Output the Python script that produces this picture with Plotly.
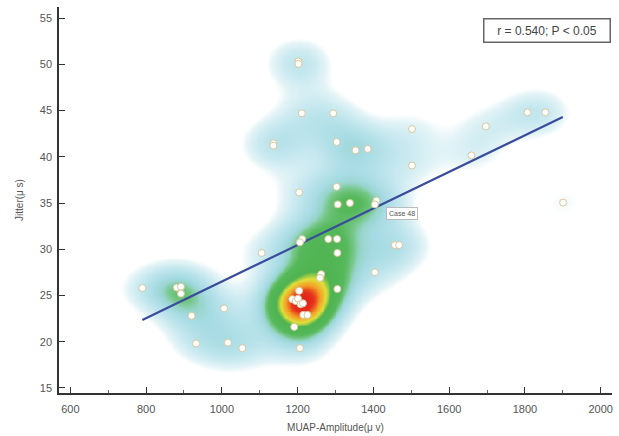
import numpy as np
import plotly.graph_objects as go

# ---- data ----
amp = [790, 881, 892, 892, 920, 932, 1006, 1016, 1054, 1105,
       1136, 1136, 1202, 1202, 1211, 1294, 1303, 1353, 1385, 1502,
       1502, 1659, 1697, 1807, 1854, 1901,
       1204, 1303, 1306, 1338, 1408, 1404,
       1212, 1206, 1281, 1304, 1305, 1457, 1468, 1404,
       1262, 1259, 1305, 1204,
       1186, 1195, 1201, 1208, 1214,
       1215, 1226, 1191, 1206]
jit = [25.8, 25.85, 25.95, 25.2, 22.8, 19.8, 23.6, 19.9, 19.3, 29.6,
       41.45, 41.2, 50.3, 50.05, 44.7, 44.7, 41.6, 40.7, 40.85, 43.0,
       39.05, 40.15, 43.3, 44.8, 44.8, 35.05,
       36.15, 36.75, 34.85, 35.0, 35.25, 34.85,
       31.1, 30.75, 31.1, 31.1, 29.6, 30.45, 30.45, 27.5,
       27.3, 26.9, 25.7, 25.5,
       24.6, 24.4, 24.65, 24.05, 24.15,
       22.9, 22.9, 21.6, 19.3]
fit_x = [790, 1900]
fit_y = [22.35, 44.3]
stat_text = "r = 0.540; P < 0.05"
case_label = "Case 48"
case_pos = (1475, 33.86)
x_ticks = [600, 800, 1000, 1200, 1400, 1600, 1800, 2000]
y_ticks = [15, 20, 25, 30, 35, 40, 45, 50, 55]

# ---- density surface from the points ----
gx = np.linspace(570, 2030, 320)
gy = np.linspace(14.4, 56.2, 220)
GX, GY = np.meshgrid(gx, gy)
hx, hy = 66.0, 2.1
Z = np.zeros_like(GX)
for xi, yi in zip(amp, jit):
    Z += np.exp(-0.5 * ((GX - xi) / hx) ** 2 - 0.5 * ((GY - yi) / hy) ** 2)
Z = Z / Z.max()

cscale = [
    [0.0, "#ffffff"], [0.1, "#ffffff"], [0.135, "#e4f4f7"],
    [0.19, "#cdebf1"], [0.26, "#b8e2ea"], [0.33, "#a6dbe3"],
    [0.38, "#96d4c8"], [0.42, "#74c684"], [0.47, "#55b85a"],
    [0.64, "#4fb350"], [0.73, "#e0df3a"], [0.83, "#f3a126"],
    [0.93, "#e6301c"], [1.0, "#e0201a"],
]

fig = go.Figure()
fig.add_trace(go.Heatmap(x=gx, y=gy, z=Z, colorscale=cscale, zmin=0, zmax=1,
                         zsmooth="best", showscale=False, hoverinfo="skip"))
fig.add_trace(go.Scatter(x=fit_x, y=fit_y, mode="lines",
                         line=dict(color="#3a4c9c", width=2.2), hoverinfo="skip"))
fig.add_trace(go.Scatter(x=amp, y=jit, mode="markers",
                         marker=dict(size=7, color="white",
                                     line=dict(color="#d9c79e", width=1))))

font = "Liberation Sans, Arial, sans-serif"
fig.add_annotation(text=stat_text, xref="paper", yref="paper", x=0.998, y=0.972,
                   xanchor="right", yanchor="top", showarrow=False,
                   font=dict(family=font, size=12, color="#444"),
                   bgcolor="white", bordercolor="#666", borderwidth=1.5,
                   borderpad=3, width=119, height=16)
fig.add_annotation(text=case_label, x=case_pos[0], y=case_pos[1], xref="x", yref="y",
                   showarrow=False, font=dict(family=font, size=7, color="#555"),
                   bgcolor="white", bordercolor="#bbb", borderwidth=1, borderpad=2)

axis_common = dict(showgrid=False, zeroline=False, showline=True, linecolor="#333",
                   linewidth=1.5, ticks="inside", ticklen=6, tickwidth=1.2,
                   tickcolor="#333", automargin=False,
                   tickfont=dict(family=font, size=11, color="#555"))
fig.update_layout(
    width=619, height=436, margin=dict(l=59, r=7, t=7, b=43),
    paper_bgcolor="white", plot_bgcolor="white", showlegend=False,
    xaxis=dict(range=[570, 2030], tickvals=x_ticks, ticklabelstandoff=5,
               minor=dict(ticks="inside", ticklen=3, dtick=100, tick0=0, tickcolor="#666"),
               title=dict(text="MUAP-Amplitude(μ v)", standoff=10,
                          font=dict(family=font, size=10, color="#555")),
               **axis_common),
    yaxis=dict(range=[14.45, 56.2], tickvals=y_ticks, ticklabelstandoff=3,
               title=dict(text="Jitter(μ s)", standoff=14,
                          font=dict(family=font, size=10, color="#555")),
               **axis_common),
)
fig.write_html("out.html", config={"displayModeBar": False},
               post_script="document.body.style.margin='0';document.body.style.padding='0';")
